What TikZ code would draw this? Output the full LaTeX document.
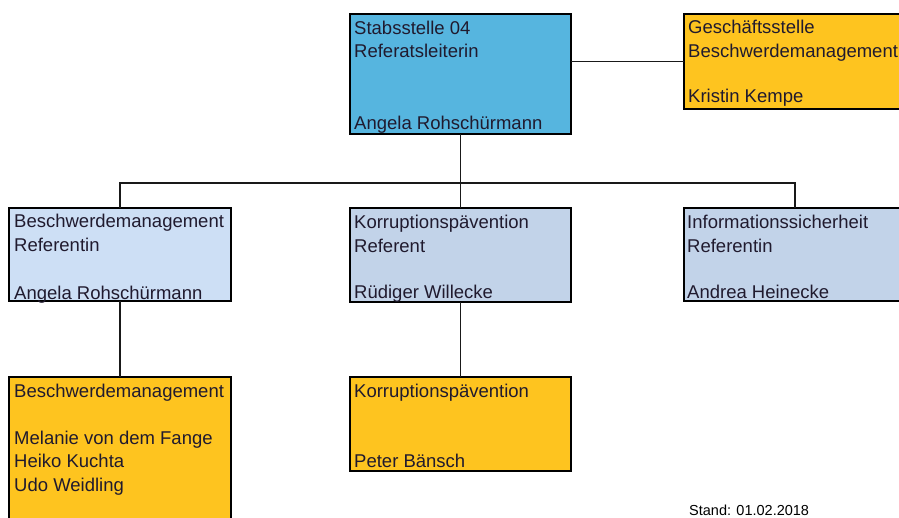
\documentclass[tikz,border=0pt]{standalone}
\usepackage{fontspec}
\setmainfont{Liberation Sans}
\definecolor{topblue}{RGB}{86,181,223}
\definecolor{orgbox}{RGB}{254,196,31}
\definecolor{lblueA}{RGB}{205,223,245}
\definecolor{lblueB}{RGB}{194,211,233}
\definecolor{txtc}{RGB}{32,26,46}
\begin{document}
\begin{tikzpicture}[x=1pt,y=-1pt,
  box/.style={draw=black,line width=2pt,anchor=north west,inner sep=0pt,outer sep=0pt},
  ln/.style={anchor=base west,inner sep=0pt,font=\fontsize{18.5}{22}\selectfont,text=txtc},
  con/.style={draw=black!90,line width=1.2pt}]
\useasboundingbox (0,0) rectangle (899,517);
\clip (0,0) rectangle (899,517);
\fill[white] (0,0) rectangle (899,517);

% connectors
\coordinate (bus) at (460.5,183);

% boxes
\node[box,fill=topblue,minimum width=221pt,minimum height=120pt] (top) at (350,14) {};
\node[box,fill=orgbox,minimum width=222pt,minimum height=95pt] (gs) at (684,14) {};
\node[box,fill=lblueA,minimum width=222pt,minimum height=93pt] (b1) at (9,208) {};
\node[box,fill=lblueB,minimum width=221pt,minimum height=94pt] (b2) at (350,208) {};
\node[box,fill=lblueB,minimum width=222pt,minimum height=93pt] (b3) at (684,208) {};
\node[box,fill=orgbox,minimum width=222pt,minimum height=160pt] (c1) at (9,377) {};
\node[box,fill=orgbox,minimum width=221pt,minimum height=94pt] (c2) at (350,377) {};

\draw[con] (gs.west) -- (gs.west -| top.east);
\draw[con] (top.south) -- (bus);
\draw[con] (b1.north) |- (bus) -| (b3.north);
\draw[con] (b2.north) -- (bus);
\draw[con] (b1.south) -- (c1.north);
\draw[con] (b2.south) -- (c2.north);

% texts
\node[ln] (t1) at (354,34) {Stabsstelle 04};
\node[ln] (t2) at (354,57) {Referatsleiterin};
\node[ln] (t3) at (354,129) {Angela Rohschürmann};

\node[ln] (g1) at (688,33) {Geschäftsstelle};
\node[ln] (g2) at (688,57) {Beschwerdemanagement};
\node[ln] (g3) at (688,102) {Kristin Kempe};

\node[ln] (m11) at (14,227) {Beschwerdemanagement};
\node[ln] (m12) at (14,251) {Referentin};
\node[ln] (m13) at (14,299) {Angela Rohschürmann};

\node[ln] (m21) at (354,228) {Korruptionspävention};
\node[ln] (m22) at (354,252) {Referent};
\node[ln] (m23) at (354,298) {Rüdiger Willecke};

\node[ln] (m31) at (687,228) {Informationssicherheit};
\node[ln] (m32) at (687,252) {Referentin};
\node[ln] (m33) at (687,298) {Andrea Heinecke};

\node[ln] (c11) at (14,397) {Beschwerdemanagement};
\node[ln] (c12) at (14,444) {Melanie von dem Fange};
\node[ln] (c13) at (14,467) {Heiko Kuchta};
\node[ln] (c14) at (14,491) {Udo Weidling};

\node[ln] (c21) at (354,397) {Korruptionspävention};
\node[ln] (c22) at (354,467) {Peter Bänsch};

\node[anchor=base west,inner sep=0pt,font=\fontsize{14.5}{17}\selectfont,text=black] (stand) at (689,515) {Stand: 01.02.2018};
\end{tikzpicture}
\end{document}
